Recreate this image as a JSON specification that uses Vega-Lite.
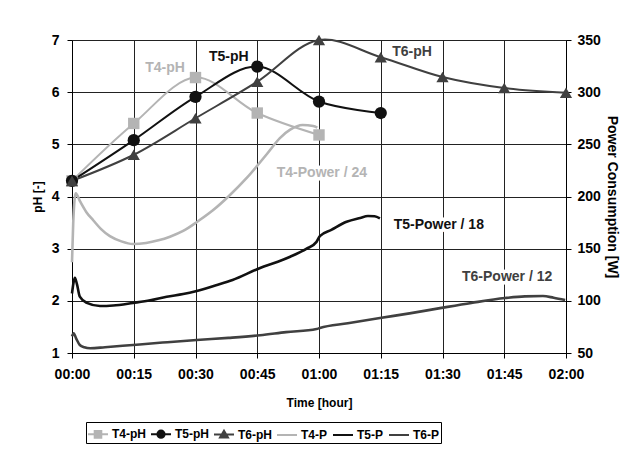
{
  "$schema": "https://vega.github.io/schema/vega-lite/v6.json",
  "width": 494,
  "height": 313,
  "autosize": {"type": "none"},
  "padding": {"left": 72, "top": 40, "right": 77, "bottom": 113},
  "background": "white",
  "config": {
    "font": "Liberation Sans",
    "view": {"stroke": null},
    "axis": {
      "labelFont": "Liberation Sans", "labelFontWeight": "bold", "labelFontSize": 14, "labelColor": "black",
      "titleFont": "Liberation Sans", "titleFontWeight": "bold", "titleColor": "black",
      "domainColor": "black", "domainWidth": 1, "tickColor": "black", "tickSize": 5, "tickWidth": 1,
      "gridColor": "#222222", "gridOpacity": 1, "gridWidth": 1, "labelFlush": false
    },
    "legend": {"strokeColor": "black", "strokeWidth": 1, "fillColor": "white"}
  },
  "datasets": {
    "ph": [
      {"series": "T4-pH", "t": 0, "v": 4.3}, {"series": "T4-pH", "t": 15, "v": 5.4}, {"series": "T4-pH", "t": 30, "v": 6.28}, {"series": "T4-pH", "t": 45, "v": 5.6}, {"series": "T4-pH", "t": 60, "v": 5.18},
      {"series": "T5-pH", "t": 0, "v": 4.3}, {"series": "T5-pH", "t": 15, "v": 5.08}, {"series": "T5-pH", "t": 30, "v": 5.91}, {"series": "T5-pH", "t": 45, "v": 6.49}, {"series": "T5-pH", "t": 60, "v": 5.82}, {"series": "T5-pH", "t": 75, "v": 5.6},
      {"series": "T6-pH", "t": 0, "v": 4.3}, {"series": "T6-pH", "t": 15, "v": 4.8}, {"series": "T6-pH", "t": 30, "v": 5.5}, {"series": "T6-pH", "t": 45, "v": 6.2}, {"series": "T6-pH", "t": 60, "v": 7.0}, {"series": "T6-pH", "t": 75, "v": 6.67}, {"series": "T6-pH", "t": 90, "v": 6.29}, {"series": "T6-pH", "t": 105, "v": 6.08}, {"series": "T6-pH", "t": 120, "v": 5.99}
    ],
    "pw": [
      {"series": "T4-P", "t": 0, "v": 137}, {"series": "T4-P", "t": 0.3, "v": 175}, {"series": "T4-P", "t": 0.9, "v": 203}, {"series": "T4-P", "t": 2, "v": 195}, {"series": "T4-P", "t": 3.5, "v": 185}, {"series": "T4-P", "t": 5.2, "v": 177}, {"series": "T4-P", "t": 7, "v": 169}, {"series": "T4-P", "t": 9.2, "v": 162}, {"series": "T4-P", "t": 12, "v": 157}, {"series": "T4-P", "t": 14.8, "v": 154.5}, {"series": "T4-P", "t": 18, "v": 155.5}, {"series": "T4-P", "t": 21, "v": 158}, {"series": "T4-P", "t": 23.8, "v": 161.5}, {"series": "T4-P", "t": 27, "v": 167}, {"series": "T4-P", "t": 30.5, "v": 176}, {"series": "T4-P", "t": 34.3, "v": 187}, {"series": "T4-P", "t": 38, "v": 200}, {"series": "T4-P", "t": 42.5, "v": 218}, {"series": "T4-P", "t": 47.4, "v": 241}, {"series": "T4-P", "t": 50.5, "v": 256}, {"series": "T4-P", "t": 53, "v": 264}, {"series": "T4-P", "t": 56, "v": 268.5}, {"series": "T4-P", "t": 58.6, "v": 267.5}, {"series": "T4-P", "t": 59.6, "v": 266},
      {"series": "T5-P", "t": 0, "v": 107}, {"series": "T5-P", "t": 0.4, "v": 118}, {"series": "T5-P", "t": 0.7, "v": 122}, {"series": "T5-P", "t": 1.2, "v": 116}, {"series": "T5-P", "t": 1.9, "v": 104}, {"series": "T5-P", "t": 3.6, "v": 98}, {"series": "T5-P", "t": 6.8, "v": 95}, {"series": "T5-P", "t": 10, "v": 95.5}, {"series": "T5-P", "t": 14.8, "v": 98}, {"series": "T5-P", "t": 19, "v": 100.5}, {"series": "T5-P", "t": 23, "v": 104}, {"series": "T5-P", "t": 27, "v": 106.5}, {"series": "T5-P", "t": 30.3, "v": 109.5}, {"series": "T5-P", "t": 35, "v": 115}, {"series": "T5-P", "t": 39, "v": 120}, {"series": "T5-P", "t": 45.7, "v": 131.5}, {"series": "T5-P", "t": 50, "v": 137.5}, {"series": "T5-P", "t": 53, "v": 142.3}, {"series": "T5-P", "t": 57, "v": 150}, {"series": "T5-P", "t": 59.4, "v": 156.5}, {"series": "T5-P", "t": 60.2, "v": 162}, {"series": "T5-P", "t": 63, "v": 168}, {"series": "T5-P", "t": 66.7, "v": 175.8}, {"series": "T5-P", "t": 70, "v": 179.5}, {"series": "T5-P", "t": 71.9, "v": 181.3}, {"series": "T5-P", "t": 73.5, "v": 181}, {"series": "T5-P", "t": 74.8, "v": 179},
      {"series": "T6-P", "t": 0, "v": 66}, {"series": "T6-P", "t": 0.4, "v": 69}, {"series": "T6-P", "t": 1, "v": 64}, {"series": "T6-P", "t": 1.9, "v": 57.7}, {"series": "T6-P", "t": 3, "v": 55.5}, {"series": "T6-P", "t": 4.4, "v": 54.5}, {"series": "T6-P", "t": 8, "v": 55.5}, {"series": "T6-P", "t": 14.8, "v": 57.7}, {"series": "T6-P", "t": 22, "v": 60}, {"series": "T6-P", "t": 30.3, "v": 62.5}, {"series": "T6-P", "t": 38, "v": 64.5}, {"series": "T6-P", "t": 45.7, "v": 67}, {"series": "T6-P", "t": 52, "v": 70}, {"series": "T6-P", "t": 59.4, "v": 73}, {"series": "T6-P", "t": 60.2, "v": 74}, {"series": "T6-P", "t": 67, "v": 78.5}, {"series": "T6-P", "t": 74.8, "v": 83.5}, {"series": "T6-P", "t": 82, "v": 88}, {"series": "T6-P", "t": 89.4, "v": 93}, {"series": "T6-P", "t": 97, "v": 98}, {"series": "T6-P", "t": 105.2, "v": 102.7}, {"series": "T6-P", "t": 110, "v": 104.3}, {"series": "T6-P", "t": 114.4, "v": 104.6}, {"series": "T6-P", "t": 117, "v": 103}, {"series": "T6-P", "t": 119.8, "v": 100.8}
    ],
    "labels": [
      {"series": "T4-pH", "t": 22.6, "v": 6.46, "label": "T4-pH"},
      {"series": "T5-pH", "t": 38.1, "v": 6.67, "label": "T5-pH"},
      {"series": "T6-pH", "t": 82.6, "v": 6.77, "label": "T6-pH"},
      {"series": "T4-P", "t": 60.7, "v": 4.45, "label": "T4-Power / 24"},
      {"series": "T5-P", "t": 89.1, "v": 3.45, "label": "T5-Power / 18"},
      {"series": "T6-P", "t": 105.7, "v": 2.46, "label": "T6-Power / 12"}
    ]
  },
  "encoding": {
    "x": {
      "field": "t", "type": "quantitative",
      "scale": {"domain": [0, 120], "nice": false, "zero": false},
      "axis": {
        "values": [0, 15, 30, 45, 60, 75, 90, 105, 120],
        "labelExpr": "pad(toString(floor(datum.value/60)),2,'0','left') + ':' + pad(toString(datum.value%60),2,'0','left')",
        "title": "Time [hour]", "titleFontSize": 12, "grid": true, "labelPadding": 9, "titlePadding": 16, "labelFlush": false, "labelOverlap": false
      }
    },
    "color": {
      "field": "series", "type": "nominal",
      "scale": {
        "domain": ["T4-pH", "T5-pH", "T6-pH", "T4-P", "T5-P", "T6-P"],
        "range": ["#b4b4b4", "#111111", "#404040", "#b4b4b4", "#111111", "#404040"]
      },
      "legend": {
        "title": null, "orient": "none", "legendX": 14, "legendY": 382,
        "direction": "horizontal", "columns": 6, "padding": 1,
        "symbolSize": 400, "symbolStrokeWidth": 2,
        "labelFont": "Liberation Sans", "labelFontSize": 12, "labelFontWeight": "bold", "labelColor": "black",
        "labelOffset": 3, "columnPadding": 1,
        "encode": {
          "symbols": {
            "update": {
              "shape": {"signal": "datum.value === 'T4-pH' ? 'M-1,0H1M-0.33,-0.33H0.33V0.33H-0.33Z' : datum.value === 'T5-pH' ? 'M-1,0H1M0.36,0A0.36,0.36 0 1,1 -0.36,0A0.36,0.36 0 1,1 0.36,0Z' : datum.value === 'T6-pH' ? 'M-1,0H1M0,-0.38L0.4,0.3H-0.4Z' : 'M-1,0H1'"},
              "fill": {"scale": "color", "field": "value"},
              "stroke": {"scale": "color", "field": "value"},
              "strokeWidth": {"value": 2},
              "opacity": {"value": 1}
            }
          }
        }
      }
    }
  },
  "layer": [
    {
      "encoding": {
        "y": {
          "field": "v", "type": "quantitative",
          "scale": {"domain": [1, 7], "nice": false, "zero": false},
          "axis": {"values": [1, 2, 3, 4, 5, 6, 7], "title": "pH [-]", "titleFontSize": 12, "grid": true, "labelPadding": 8, "titlePadding": 7}
        }
      },
      "layer": [
        {"data": {"name": "ph"}, "mark": {"type": "line", "interpolate": "catmull-rom", "strokeWidth": 2}},
        {"data": {"name": "ph"}, "transform": [{"filter": "datum.series === 'T4-pH'"}], "mark": {"type": "point", "shape": "square", "filled": true, "size": 130, "opacity": 1}},
        {"data": {"name": "ph"}, "transform": [{"filter": "datum.series === 'T5-pH'"}], "mark": {"type": "point", "shape": "circle", "filled": true, "size": 150, "opacity": 1}},
        {"data": {"name": "ph"}, "transform": [{"filter": "datum.series === 'T6-pH'"}], "mark": {"type": "point", "shape": "triangle-up", "filled": true, "size": 150, "opacity": 1}},
        {"data": {"name": "labels"}, "mark": {"type": "text", "font": "Liberation Sans", "fontWeight": "bold", "fontSize": 14, "stroke": "white", "strokeWidth": 7, "strokeJoin": "round", "align": "center", "baseline": "middle"}, "encoding": {"text": {"field": "label"}}},
        {"data": {"name": "labels"}, "mark": {"type": "text", "font": "Liberation Sans", "fontWeight": "bold", "fontSize": 14, "align": "center", "baseline": "middle"}, "encoding": {"text": {"field": "label"}}}
      ]
    },
    {
      "data": {"name": "pw"},
      "mark": {"type": "line", "interpolate": "monotone", "strokeWidth": 2.6},
      "encoding": {
        "y": {
          "field": "v", "type": "quantitative",
          "scale": {"domain": [50, 350], "nice": false, "zero": false},
          "axis": {"orient": "right", "values": [50, 100, 150, 200, 250, 300, 350], "title": "Power Consumption [W]", "titleFontSize": 14, "grid": false, "labelPadding": 6, "titlePadding": 4}
        }
      }
    }
  ],
  "resolve": {"scale": {"y": "independent"}}
}
